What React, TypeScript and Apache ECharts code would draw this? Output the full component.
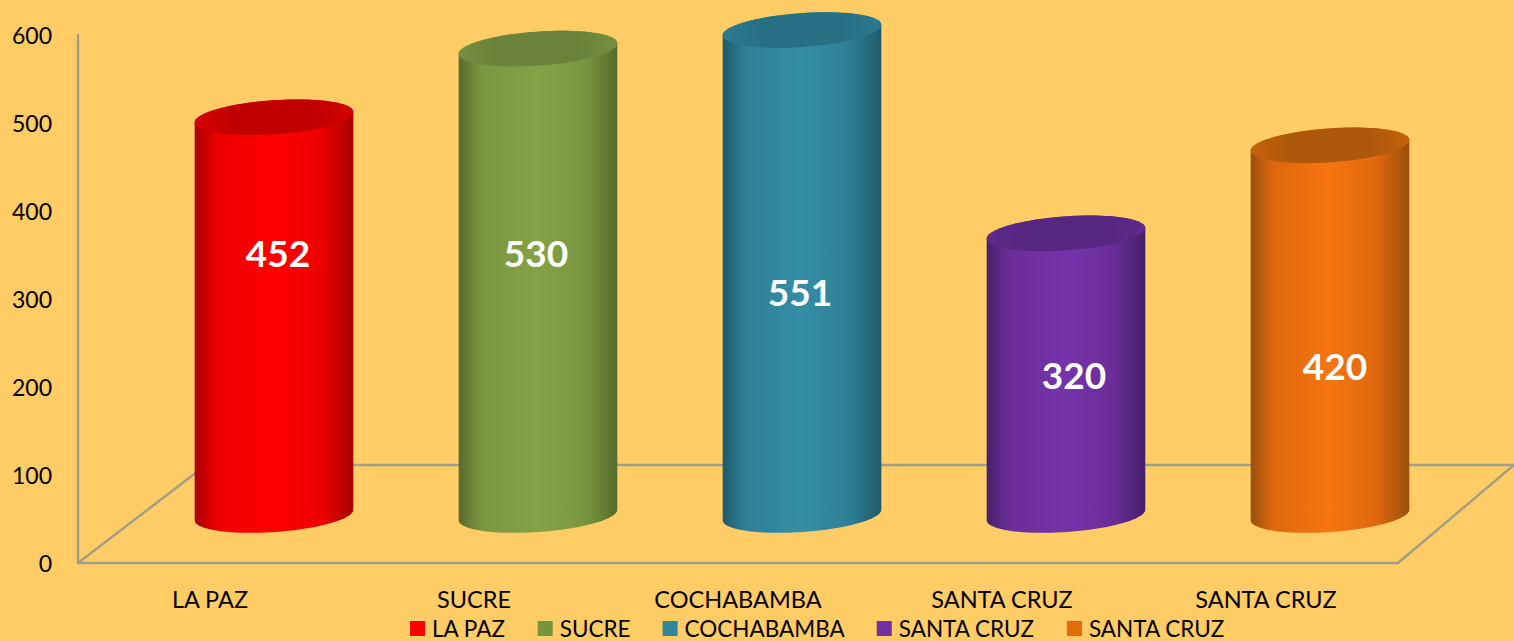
import React, { useEffect, useRef } from "react";
import * as echarts from "echarts";

const categories = ["LA PAZ", "SUCRE", "COCHABAMBA", "SANTA CRUZ", "SANTA CRUZ"];
// Legend drops repeated names, so the second SANTA CRUZ carries a trailing space (trimmed when shown).
const seriesNames = ["LA PAZ", "SUCRE", "COCHABAMBA", "SANTA CRUZ", "SANTA CRUZ "];
const values = [452, 530, 551, 320, 420];
const yTicksMax = 600;

const legendColors = ["#ff0000", "#77933c", "#31859c", "#7030a0", "#e46c0a"];
const edgeColors = ["#a80000", "#566b2c", "#1f5a6b", "#45206a", "#9a4f0c"];
const midColors = ["#ee0000", "#7a9640", "#2f7f96", "#6a2d98", "#de680e"];
const brightColors = ["#ff0000", "#86a246", "#348ea6", "#7634ac", "#f6750f"];
const capEdgeColors = ["#d60000", "#768f42", "#2c7b91", "#5f2a8c", "#c4620c"];
const capCoreColors = ["#c00000", "#6a8239", "#286f84", "#572680", "#ae580b"];

// Layout of the fake 3D scene
const GRID = { left: 78, right: 116, top: 35, bottom: 78 };
const W = 1514;
const H = 641;
const DEPTH_X = 64;
const DEPTH_Y = 48;
const RX = 79.5;
const RY = 17;
const TILT = -4;
const ARC_STEPS = 48;
const labelValueLevels = [353, 353, 309, 214, 225];
const labelShiftX = [4, -2, -2, 8, 5];

const FLOOR_COLOR = "#a09e84";

function ellipsePoint(cx: number, cy: number, t: number) {
  const rad = (TILT * Math.PI) / 180;
  const ex = RX * Math.cos(t);
  const ey = RY * Math.sin(t);
  return [cx + ex * Math.cos(rad) - ey * Math.sin(rad), cy + ex * Math.sin(rad) + ey * Math.cos(rad)];
}

function makeRenderItem(idx: number) {
  return (_params: any, api: any) => {
    const cat = api.value(0);
    const val = api.value(1);
    const cx = api.coord([cat, 0])[0] + DEPTH_X;
    const base = api.coord([cat, 0])[1] - DEPTH_Y;
    const top = api.coord([cat, val])[1] - DEPTH_Y;
    const points: number[][] = [];
    // lower arc of the base, left to right, then upper arc of the top, right to left
    for (let s = 0; s <= ARC_STEPS; s++) points.push(ellipsePoint(cx, base, Math.PI - (Math.PI * s) / ARC_STEPS));
    for (let s = 0; s <= ARC_STEPS; s++) points.push(ellipsePoint(cx, top, -(Math.PI * s) / ARC_STEPS));
    const bodyFill = new echarts.graphic.LinearGradient(0, 0, 1, 0, [
      { offset: 0, color: edgeColors[idx] },
      { offset: 0.14, color: midColors[idx] },
      { offset: 0.5, color: brightColors[idx] },
      { offset: 0.8, color: midColors[idx] },
      { offset: 1, color: edgeColors[idx] },
    ]);
    const capFill = new echarts.graphic.LinearGradient(0, 0, 1, 0, [
      { offset: 0, color: capEdgeColors[idx] },
      { offset: 0.25, color: capCoreColors[idx] },
      { offset: 0.75, color: capCoreColors[idx] },
      { offset: 1, color: capEdgeColors[idx] },
    ]);
    const labelPoint = api.coord([cat, labelValueLevels[idx]]);
    return {
      type: "group",
      children: [
        { type: "polygon", shape: { points }, style: { fill: bodyFill } },
        {
          type: "ellipse",
          x: cx,
          y: top,
          rotation: (-TILT * Math.PI) / 180,
          shape: { cx: 0, cy: 0, rx: RX, ry: RY },
          style: { fill: capFill },
        },
        {
          type: "text",
          x: cx + labelShiftX[idx],
          y: labelPoint[1],
          z2: 10,
          style: {
            text: String(val),
            fill: "#ffffff",
            font: 'bold 37px Lato, "Noto Sans", sans-serif',
            align: "center",
            verticalAlign: "middle",
          },
        },
      ],
    };
  };
}

export default function App() {
  const ref = useRef<HTMLDivElement | null>(null);

  useEffect(() => {
    if (!ref.current) return;
    const chart = echarts.init(ref.current, undefined, { renderer: "svg" });
    const x0 = GRID.left;
    const x1 = W - GRID.right;
    const y0 = H - GRID.bottom;
    const yBack = y0 - 98;
    const lineStyle = { stroke: FLOOR_COLOR, lineWidth: 2.4 };
    chart.setOption({
      animation: false,
      backgroundColor: "#ffcc66",
      textStyle: { fontFamily: "Lato" },
      grid: { ...GRID },
      legend: {
        left: 405,
        top: 617,
        padding: [0, 0, 0, 5],
        itemWidth: 15,
        itemHeight: 15,
        itemGap: 32,
        icon: "rect",
        data: seriesNames,
        formatter: (n: string) => n.trim(),
        textStyle: { fontFamily: "Lato", fontSize: 22.5, color: "#000", padding: [0, 0, 0, 2] },
      },
      xAxis: {
        type: "category",
        data: categories,
        axisLine: { show: true, lineStyle: { color: FLOOR_COLOR, width: 2.4 } },
        axisTick: { show: false },
        axisLabel: { color: "#000", fontFamily: "Lato", fontSize: 23.5, margin: 24, interval: 0 },
      },
      yAxis: {
        type: "value",
        min: 0,
        max: yTicksMax,
        interval: 100,
        axisLine: { show: true, lineStyle: { color: FLOOR_COLOR, width: 2.4 } },
        axisTick: { show: false },
        splitLine: { show: false },
        axisLabel: { color: "#000", fontFamily: "Lato", fontSize: 23, margin: 26, padding: [3, 0, 0, 0] },
      },
      graphic: [
        { type: "line", z: 0, shape: { x1: x0, y1: y0, x2: x0 + 128, y2: yBack }, style: lineStyle },
        { type: "line", z: 0, shape: { x1: x0 + 128, y1: yBack, x2: W, y2: yBack }, style: lineStyle },
        { type: "line", z: 0, shape: { x1: x1, y1: y0, x2: W, y2: yBack }, style: lineStyle },
      ],
      series: seriesNames.map((name, i) => ({
        type: "custom",
        name,
        z: 5,
        clip: false,
        itemStyle: { color: legendColors[i] },
        encode: { x: 0, y: 1 },
        data: [[i, values[i]]],
        renderItem: makeRenderItem(i),
      })),
    });
    return () => chart.dispose();
  }, []);

  return <div ref={ref} style={{ position: "fixed", left: 0, top: 0, width: W, height: H }} />;
}
